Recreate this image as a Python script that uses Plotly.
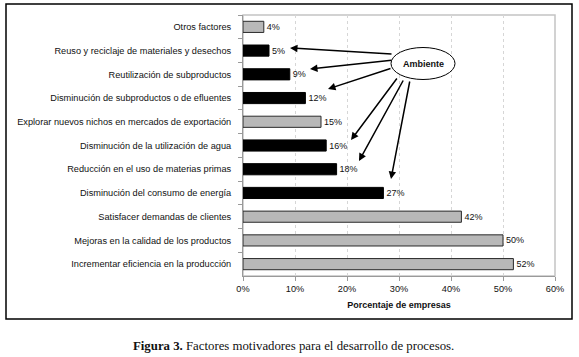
import plotly.graph_objects as go

categories = [
    "Otros factores",
    "Reuso y reciclaje de materiales y desechos",
    "Reutilización de subproductos",
    "Disminución de subproductos o de efluentes",
    "Explorar nuevos nichos en mercados de exportación",
    "Disminución de la utilización de agua",
    "Reducción en el uso de materias primas",
    "Disminución del consumo de energía",
    "Satisfacer demandas de clientes",
    "Mejoras en la calidad de los productos",
    "Incrementar eficiencia en la producción",
]
values = [4, 5, 9, 12, 15, 16, 18, 27, 42, 50, 52]
is_ambiente = [False, True, True, True, False, True, True, True, False, False, False]
x_ticks = [0, 10, 20, 30, 40, 50, 60]
x_ticklabels = ["0%", "10%", "20%", "30%", "40%", "50%", "60%"]

W, H = 579, 357
L, R, T, B = 243, 555, 15, 276

def px(x):
    return (x - L) / (R - L)

def py(y):
    return (B - y) / (B - T)

colors = ["#000000" if a else "#b8b8b8" for a in is_ambiente]
lines = ["#000000" if a else "#2a2a2a" for a in is_ambiente]

fig = go.Figure()
fig.add_trace(go.Bar(
    x=values, y=categories, orientation="h",
    marker=dict(color=colors, line=dict(color=lines, width=1)),
    text=[f"{v}%" for v in values], textposition="outside",
    textfont=dict(family="Liberation Sans, Arial", size=9, color="#111"),
    cliponaxis=False, width=0.47,
))

fig.update_layout(
    width=W, height=H,
    margin=dict(l=L, r=W - R, t=T, b=H - B),
    paper_bgcolor="white", plot_bgcolor="white",
    showlegend=False,
    font=dict(family="Liberation Sans, Arial", size=9.2, color="#111"),
    xaxis=dict(
        range=[0, 60], tickmode="array", tickvals=x_ticks, ticktext=x_ticklabels,
        showgrid=True, gridcolor="#d6d6d6", griddash="dot", gridwidth=1,
        showline=True, linecolor="#9a9a9a", linewidth=1,
        ticks="outside", ticklen=4, tickcolor="#9a9a9a",
        tickfont=dict(size=9.2), zeroline=False,
        title=dict(text="<b>Porcentaje de empresas</b>", font=dict(size=9), standoff=8),
    ),
    yaxis=dict(
        autorange="reversed", tickson="boundaries",
        ticks="outside", ticklen=4, tickcolor="#9a9a9a",
        showline=True, linecolor="#9a9a9a", linewidth=1,
        tickfont=dict(size=9.2), ticklabelstandoff=9,
    ),
)

# Plot-area border (light gray)
fig.add_shape(type="rect", xref="paper", yref="paper",
              x0=0, x1=1, y0=0, y1=1,
              line=dict(color="#c4c4c4", width=1.5), layer="below")

# Outer frame
fig.add_shape(type="rect", xref="paper", yref="paper",
              x0=px(6), x1=px(572), y0=py(4), y1=py(319),
              line=dict(color="black", width=1.5), layer="below")

# Ellipse "Ambiente"
cx, cy, rx, ry = 423, 63.5, 32, 16
fig.add_shape(type="circle", xref="paper", yref="paper",
              x0=px(cx - rx), x1=px(cx + rx), y0=py(cy - ry), y1=py(cy + ry),
              line=dict(color="black", width=1), fillcolor="white")
fig.add_annotation(x=px(cx), y=py(cy), xref="paper", yref="paper",
                   xanchor="center", yanchor="middle",
                   text="<b>Ambiente</b>", showarrow=False,
                   font=dict(size=9, color="#111"))

arrows = [
    ((393, 54), (290, 48)),
    ((393, 60), (310, 69)),
    ((392, 68), (328, 89)),
    ((398, 77), (351, 140)),
    ((404, 79), (359, 161)),
    ((410, 80), (391, 179)),
]
for (tx, ty), (hx, hy) in arrows:
    fig.add_annotation(x=px(hx), y=py(hy), xref="paper", yref="paper",
                       ax=tx - hx, ay=ty - hy, axref="pixel", ayref="pixel",
                       text="", showarrow=True, arrowhead=2, arrowsize=1,
                       arrowwidth=1.5, arrowcolor="black", standoff=0)

# Caption
fig.add_annotation(x=px(293), y=py(346), xref="paper", yref="paper",
                   xanchor="center", yanchor="middle",
                   text="<b>Figura 3.</b> Factores motivadores para el desarrollo de procesos.",
                   showarrow=False,
                   font=dict(family="Liberation Serif, Times New Roman", size=12.8, color="#111"))

fig.write_html("out.html", config={"displayModeBar": False},
               post_script="document.body.style.margin='0';document.body.style.padding='0';")
